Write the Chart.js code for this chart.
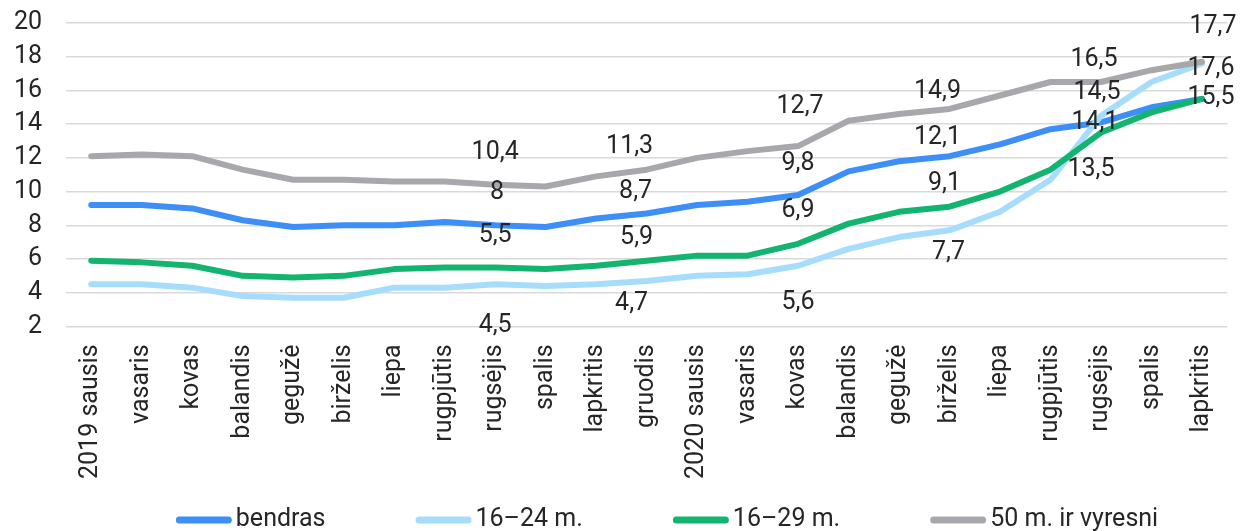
<!DOCTYPE html>
<html lang="lt">
<head>
<meta charset="utf-8">
<script src="https://cdn.jsdelivr.net/npm/chart.js@4.4.1/dist/chart.umd.min.js"></script>
<style>
    html, body { margin: 0; padding: 0; background: #fff; }
</style>
</head>
<body>
<canvas id="myChart" width="1242" height="531"></canvas>
<script>

const menesiai = ['2019 sausis', 'vasaris', 'kovas', 'balandis', 'gegužė', 'birželis', 'liepa', 'rugpjūtis', 'rugsėjis', 'spalis', 'lapkritis', 'gruodis',
    '2020 sausis', 'vasaris', 'kovas', 'balandis', 'gegužė', 'birželis', 'liepa', 'rugpjūtis', 'rugsėjis', 'spalis', 'lapkritis']

const pavadinimai = ['bendras', '16–24 m.', '16–29 m.', '50 m. ir vyresni']

/* nedarbo lygis, % */
const bendras = [9.2, 9.2, 9.0, 8.3, 7.9, 8.0, 8.0, 8.2, 8.0, 7.9, 8.4, 8.7, 9.2, 9.4, 9.8, 11.2, 11.8, 12.1, 12.8, 13.7, 14.1, 15.0, 15.5]
const jauni1624 = [4.5, 4.5, 4.3, 3.8, 3.7, 3.7, 4.3, 4.3, 4.5, 4.4, 4.5, 4.7, 5.0, 5.1, 5.6, 6.6, 7.3, 7.7, 8.8, 10.7, 14.5, 16.5, 17.6]
const jauni1629 = [5.9, 5.8, 5.6, 5.0, 4.9, 5.0, 5.4, 5.5, 5.5, 5.4, 5.6, 5.9, 6.2, 6.2, 6.9, 8.1, 8.8, 9.1, 10.0, 11.3, 13.5, 14.7, 15.5]
const vyresni50 = [12.1, 12.2, 12.1, 11.3, 10.7, 10.7, 10.6, 10.6, 10.4, 10.3, 10.9, 11.3, 12.0, 12.4, 12.7, 14.2, 14.6, 14.9, 15.7, 16.5, 16.5, 17.2, 17.7]

const yTikai = [2, 4, 6, 8, 10, 12, 14, 16, 18, 20]

// taskai, prie kuriu rodomos reiksmes
const rodomiTaskai = [8, 11, 14, 17, 20, 22]

const spalvos = ['#3d8ef7', '#a6ddfc', '#13b370', '#a7a8ab']

/* uzrasu poslinkiai nuo tasko (dx, dy), null - nerodyti */
const poslinkiai = [
    [[2, -33], [-11, -22], [0, -31], [-12, -18], [-6, 0], null],
    [[0, 41], [-15, 23], [0, 37], [-1, 22], [-4, -23], [9, 5]],
    [[0, -32], [-10, -23], [0, -33], [-5, -23], [-10, 37], [9, -1]],
    [[0, -32], [-17, -23], [2, -39], [-12, -17], [-7, -22], [11, -35]]
]

const sriftas = 'Roboto, "Noto Sans", sans-serif'
const tekstoSpalva = '#262626'

function kablelis(v) {
    return String(v).replace('.', ',')
}

// reiksmiu uzrasai
const uzrasai = {
    id: 'uzrasai',
    afterDatasetsDraw(chart) {
        const ctx = chart.ctx
        ctx.save()
        ctx.font = '25px ' + sriftas
        ctx.fillStyle = tekstoSpalva
        ctx.textAlign = 'center'
        ctx.textBaseline = 'middle'
        chart.data.datasets.forEach((ds, d) => {
            const meta = chart.getDatasetMeta(d)
            rodomiTaskai.forEach((i, k) => {
                const p = poslinkiai[d][k]
                if (!p) return
                const pt = meta.data[i]
                ctx.fillText(kablelis(ds.data[i]), pt.x + p[0], pt.y + p[1])
            })
        })
        ctx.restore()
    }
}

// legenda apacioje
const legenda = {
    id: 'legenda',
    afterDraw(chart) {
        const ctx = chart.ctx
        ctx.save()
        ctx.font = '25px ' + sriftas
        ctx.textBaseline = 'middle'
        ctx.textAlign = 'left'
        const linija = 56
        const tarpas = 4
        const tarpasTarp = 90
        let plotis = 0
        pavadinimai.forEach(t => { plotis += linija + tarpas + ctx.measureText(t).width })
        plotis += tarpasTarp * (pavadinimai.length - 1)
        let x = 667 - plotis / 2
        const y = 520
        pavadinimai.forEach((t, i) => {
            ctx.strokeStyle = spalvos[i]
            ctx.lineWidth = 7
            ctx.lineCap = 'round'
            ctx.beginPath()
            ctx.moveTo(x + 3.5, y)
            ctx.lineTo(x + linija - 3.5, y)
            ctx.stroke()
            ctx.fillStyle = tekstoSpalva
            ctx.fillText(t, x + linija + tarpas, y)
            x += linija + tarpas + ctx.measureText(t).width + tarpasTarp
        })
        ctx.restore()
    }
}

function linija(label, data, spalva, eile) {
    return {
        label: label,
        data: data,
        borderColor: spalva,
        backgroundColor: spalva,
        borderWidth: 6,
        borderCapStyle: 'round',
        borderJoinStyle: 'round',
        pointRadius: 0,
        tension: 0,
        fill: false,
        order: eile
    }
}

function grafikas() {
    const ctx = document.getElementById('myChart')

    new Chart(ctx, {
        type: 'line',
        data: {
            labels: menesiai,
            datasets: [
                linija(pavadinimai[0], bendras, spalvos[0], 3),
                linija(pavadinimai[1], jauni1624, spalvos[1], 2),
                linija(pavadinimai[2], jauni1629, spalvos[2], 1),
                linija(pavadinimai[3], vyresni50, spalvos[3], 0)
            ]
        },
        options: {
            responsive: false,
            animation: false,
            layout: {
                padding: { top: 23, left: 15, right: 1, bottom: 42 }
            },
            plugins: {
                legend: { display: false },
                tooltip: { enabled: false }
            },
            scales: {
                x: {
                    offset: true,
                    grid: { display: false },
                    border: { display: false },
                    ticks: {
                        autoSkip: false,
                        minRotation: 90,
                        maxRotation: 90,
                        padding: 10,
                        color: tekstoSpalva,
                        font: { family: sriftas, size: 25 }
                    }
                },
                y: {
                    min: 2,
                    max: 20,
                    afterBuildTicks(axis) {
                        axis.ticks = yTikai.map(v => ({ value: v }))
                    },
                    afterFit(axis) {
                        // tik tiek vietos, kiek reikia skaiciams
                        axis.width = 51
                        axis.paddingTop = 0
                        axis.paddingBottom = 0
                    },
                    grid: { color: '#d9d9d9', lineWidth: 1.5, drawTicks: false },
                    border: { display: false },
                    ticks: {
                        autoSkip: false,
                        padding: 24,
                        color: tekstoSpalva,
                        font: { family: sriftas, size: 25 }
                    }
                }
            }
        },
        plugins: [uzrasai, legenda]
    })
}

grafikas()
</script>
</body>
</html>
